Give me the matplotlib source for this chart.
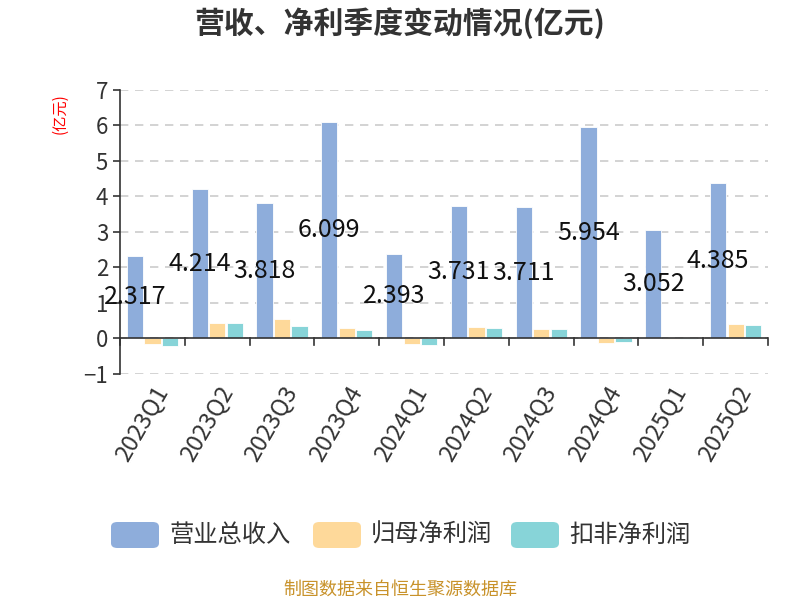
import matplotlib.pyplot as plt
from matplotlib.patches import FancyBboxPatch
import numpy as np

plt.rcParams['font.family'] = ['Noto Sans CJK SC', 'DejaVu Sans']

quarters = ["2023Q1", "2023Q2", "2023Q3", "2023Q4", "2024Q1",
            "2024Q2", "2024Q3", "2024Q4", "2025Q1", "2025Q2"]
revenue = [2.317, 4.214, 3.818, 6.099, 2.393, 3.731, 3.711, 5.954, 3.052, 4.385]
net_profit = [-0.15, 0.45, 0.55, 0.29, -0.15, 0.31, 0.26, -0.12, -0.01, 0.41]
deducted_profit = [-0.21, 0.43, 0.35, 0.25, -0.19, 0.29, 0.255, -0.10, -0.01, 0.38]
series_names = ["营业总收入", "归母净利润", "扣非净利润"]
colors = ["#8eaddb", "#fed99a", "#87d4d8"]

fig = plt.figure(figsize=(8, 6), dpi=100)
ax = fig.add_axes([0.15, 0.3767, 0.81, 0.4733])

x = np.arange(len(quarters))
w = 0.25
step = 0.27
for i, vals in enumerate([revenue, net_profit, deducted_profit]):
    ax.bar(x + (i - 1) * step, vals, width=w, color=colors[i],
           edgecolor="white", linewidth=0.6, zorder=3)

for xi, v in zip(x, revenue):
    ax.text(xi - step, v / 2, f"{v:.3f}", ha="center", va="center",
            fontsize=18, color="#111111", zorder=4)

ax.set_xlim(-0.5, len(quarters) - 0.5)
ax.set_ylim(-1, 7)
ax.set_yticks(range(-1, 8))
ax.tick_params(axis="y", labelsize=16, colors="#333333", length=5, width=1.2)
for t in ax.get_yticklabels():
    t.set_color("#333333")

ax.set_xticks(x)
ax.set_xticklabels(quarters, rotation=60, ha="right", rotation_mode="anchor",
                   fontsize=17, color="#333333")
ax.tick_params(axis="x", length=0, pad=6)
# boundary ticks on the zero line
for b in np.arange(-0.5, len(quarters), 1.0):
    ax.plot([b, b], [0, -0.17], color="#333333", lw=1.2, zorder=4, clip_on=False)

ax.grid(axis="y", linestyle=(0, (5, 4)), color="#cccccc", linewidth=1.2, zorder=0)
ax.axhline(0, color="#333333", lw=1.2, zorder=4)
for s in ["top", "right", "bottom"]:
    ax.spines[s].set_visible(False)
ax.spines["left"].set_color("#333333")
ax.spines["left"].set_linewidth(1.2)

fig.text(0.075, 0.81, "(亿元)", rotation=90, color="red", fontsize=11,
         ha="center", va="center")

fig.text(0.5, 0.962, "营收、净利季度变动情况(亿元)", ha="center", va="center",
         fontsize=21.5, fontweight="bold", color="#333333")

# legend with rounded swatches
leg_y = 535
swatch_x = [111, 313, 511]
for sx, c, name in zip(swatch_x, colors, series_names):
    fig.patches.append(FancyBboxPatch(((sx) / 800, (600 - leg_y - 13) / 600),
                                      48 / 800, 26 / 600,
                                      boxstyle="round,pad=0,rounding_size=0.008",
                                      transform=fig.transFigure,
                                      facecolor=c, edgecolor="none"))
    fig.text((sx + 58) / 800, (600 - leg_y) / 600, name, ha="left", va="center",
             fontsize=17.5, color="#333333")

fig.text(0.5, (600 - 590) / 600, "制图数据来自恒生聚源数据库", ha="center",
         va="center", fontsize=13, color="#c8922a")

fig.savefig("out.png", dpi=100)
